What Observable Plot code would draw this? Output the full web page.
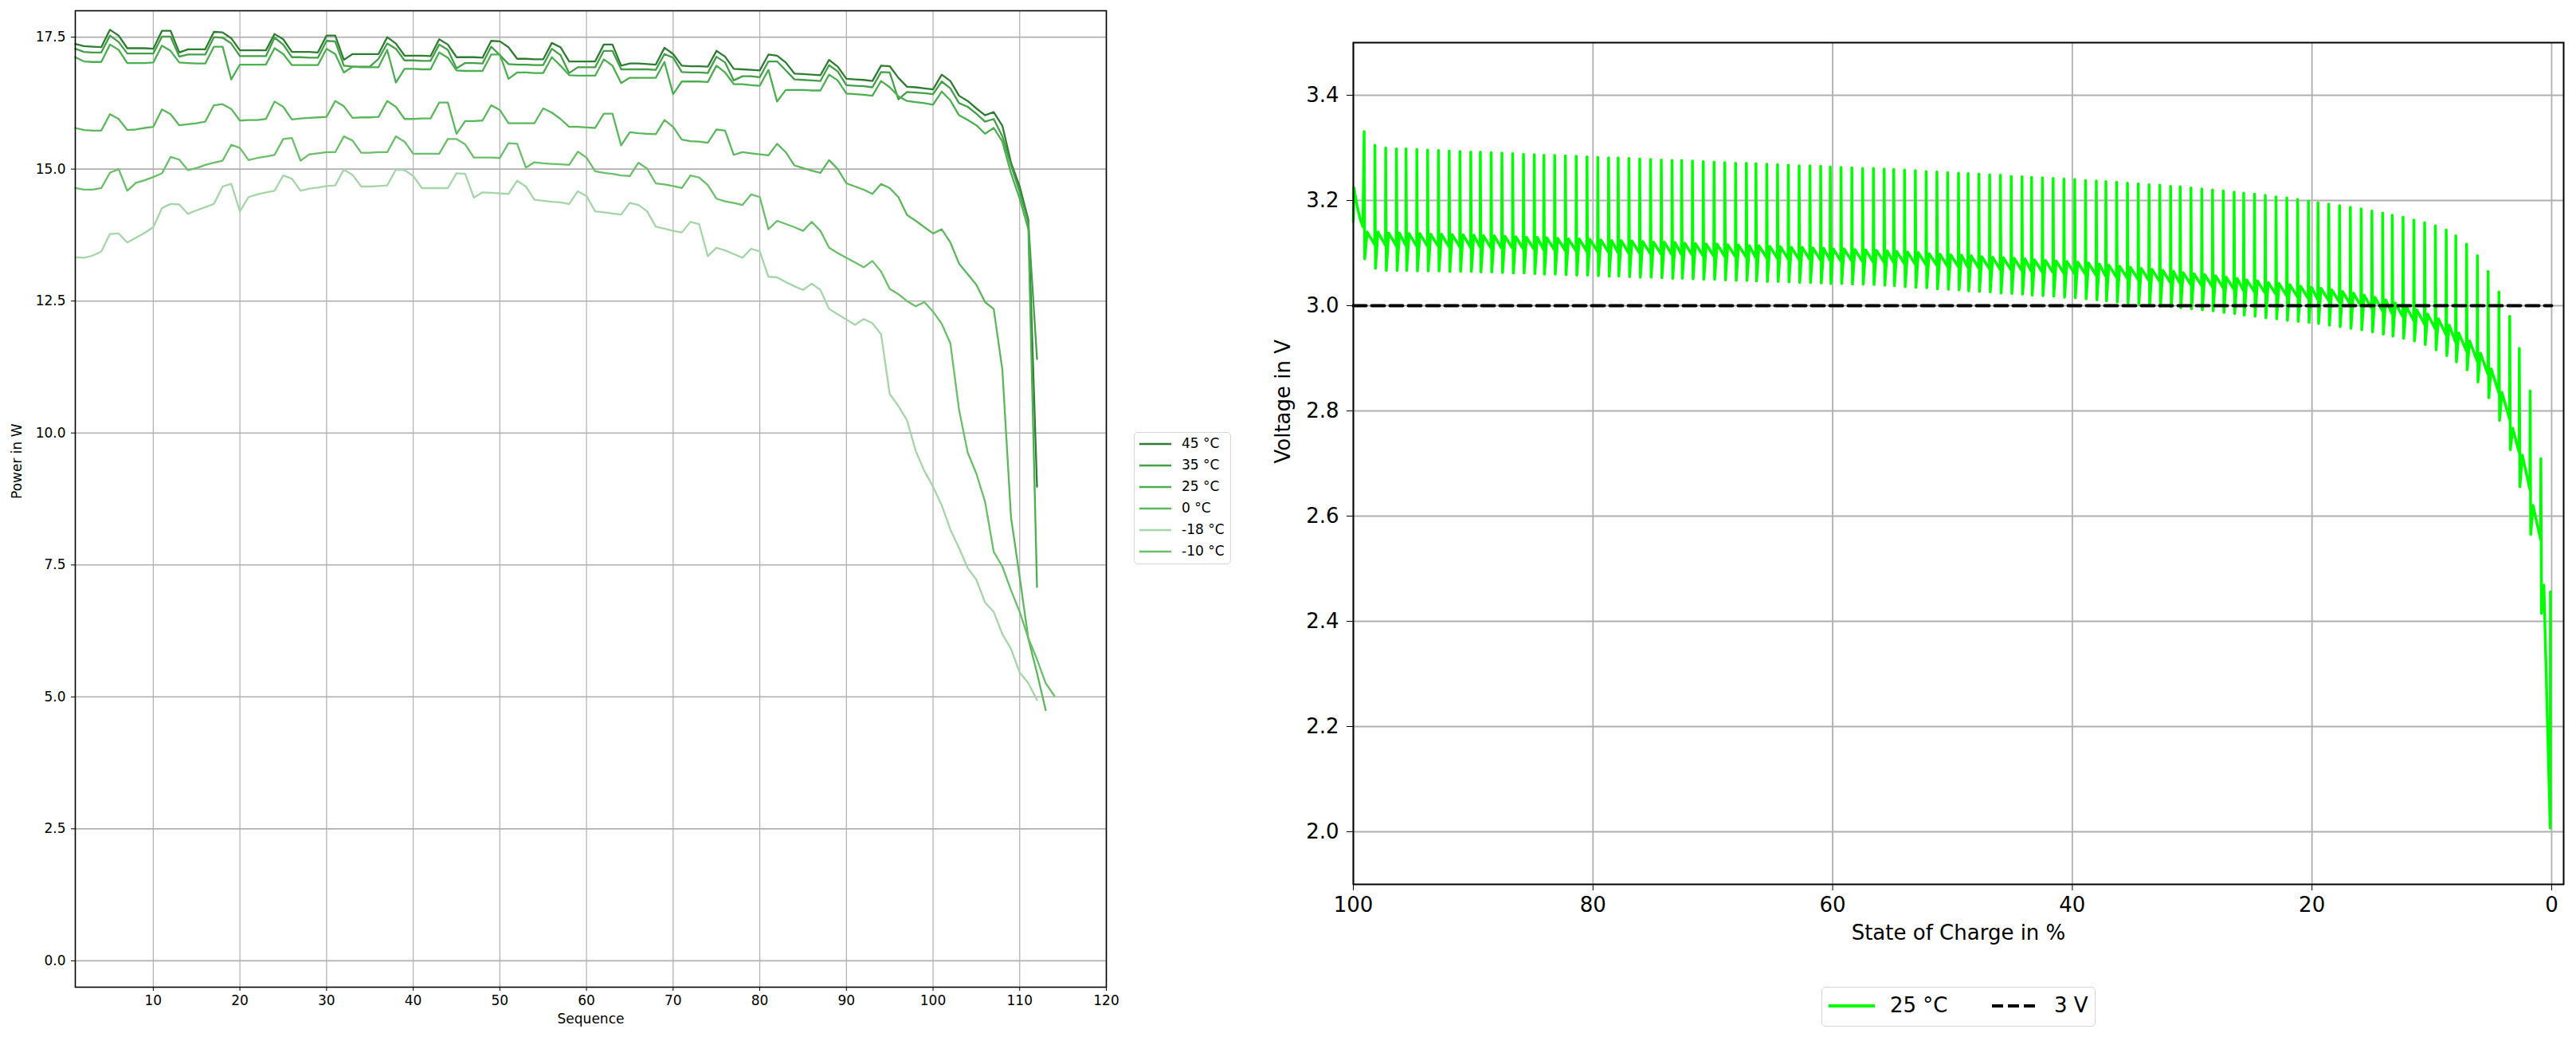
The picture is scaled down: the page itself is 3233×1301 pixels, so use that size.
<!DOCTYPE html>
<html><head><meta charset="utf-8">
<script src="https://cdn.jsdelivr.net/npm/d3@7"></script>
<script src="https://cdn.jsdelivr.net/npm/@observablehq/plot@0.6"></script>
<style>
html,body{margin:0;padding:0;background:#fff;}
#fig{position:relative;width:3233px;height:1301px;overflow:hidden;font-family:"DejaVu Sans",sans-serif;background:#fff;}
#left{position:absolute;left:0;top:0;}
#right{position:absolute;left:1560px;top:0;}
.legend{position:absolute;background:#fff;border:1.5px solid #d6d6d6;border-radius:5px;box-sizing:border-box;}
.legend .it{position:absolute;white-space:nowrap;color:#000;line-height:1;}
.legend svg{position:absolute;}
</style></head><body>
<div id="fig"><div id="left"></div><div id="right"></div><div id="legL" class="legend"></div><div id="legR" class="legend"></div></div>
<script>
// ---------- Left chart: power per sequence ----------
const seriesNames = ["45 °C","35 °C","25 °C","0 °C","-18 °C","-10 °C"];
const seriesColors = ["#2e7d32","#43a047","#4caf50","#5cb85c","#a5d6a7","#6abf69"];
const xTicksLeft = [10,20,30,40,50,60,70,80,90,100,110,120];
const yTicksLeft = [0,2.5,5,7.5,10,12.5,15,17.5];

const p45 = [
17.37,17.33,17.32,17.31,17.64,17.53,17.29,17.29,17.29,17.28,
17.62,17.62,17.21,17.27,17.27,17.27,17.60,17.59,17.48,17.25,
17.25,17.25,17.25,17.56,17.46,17.22,17.22,17.22,17.21,17.53,
17.53,17.07,17.18,17.18,17.18,17.18,17.50,17.38,17.15,17.15,
17.15,17.14,17.46,17.36,17.12,17.12,17.12,17.11,17.43,17.42,
17.31,17.09,17.09,17.08,17.08,17.39,17.31,17.04,17.04,17.04,
17.04,17.36,17.36,16.96,17.00,17.00,16.99,16.98,17.30,17.18,
16.96,16.95,16.95,16.94,17.24,17.13,16.90,16.89,16.88,16.87,
17.17,17.15,17.02,16.81,16.80,16.79,16.78,17.07,16.94,16.71,
16.70,16.69,16.67,16.96,16.95,16.73,16.56,16.55,16.53,16.51,
16.79,16.67,16.39,16.29,16.15,16.02,16.08,15.82,15.12,14.67,
14.04,8.98];
const p35 = [
17.28,17.22,17.21,17.21,17.53,17.41,17.19,17.19,17.19,17.19,
17.51,17.51,17.13,17.17,17.17,17.17,17.50,17.49,17.38,17.14,
17.14,17.14,17.14,17.49,17.36,17.12,17.12,17.11,17.11,17.43,
17.42,16.96,16.94,16.94,16.94,17.09,17.38,17.28,17.06,17.06,
17.05,17.05,17.36,17.26,16.91,17.01,17.01,17.00,17.32,17.16,
16.99,16.98,16.98,16.97,16.97,17.28,17.16,16.82,16.93,16.93,
16.93,17.24,17.24,16.89,16.89,16.89,16.89,16.88,17.18,17.11,
16.84,16.83,16.83,16.82,17.13,17.02,16.68,16.76,16.76,16.74,
17.04,17.04,16.87,16.70,16.69,16.68,16.67,16.97,16.85,16.59,
16.58,16.57,16.55,16.84,16.83,16.32,16.46,16.45,16.44,16.42,
16.66,16.53,16.25,16.18,16.05,15.90,15.95,15.62,15.07,14.57,
13.99,11.40];
const p25 = [
17.12,17.04,17.03,17.03,17.36,17.26,17.01,17.01,17.01,17.02,
17.34,17.24,17.02,17.01,17.00,17.00,17.32,17.32,16.70,16.98,
16.98,16.98,16.98,17.29,17.18,16.97,16.97,16.97,16.97,17.28,
17.18,16.83,16.94,16.93,16.93,16.93,17.26,16.64,16.90,16.90,
16.89,16.89,17.21,17.11,16.87,16.86,16.86,16.86,17.17,17.17,
16.71,16.83,16.83,16.82,16.82,17.12,16.96,16.78,16.77,16.77,
16.77,17.08,16.96,16.63,16.73,16.73,16.73,16.73,17.03,16.42,
16.66,16.66,16.66,16.65,16.96,16.83,16.61,16.61,16.59,16.58,
16.88,16.28,16.50,16.50,16.50,16.49,16.49,16.79,16.68,16.43,
16.42,16.41,16.39,16.67,16.55,16.38,16.29,16.27,16.25,16.22,
16.47,16.30,16.02,15.93,15.83,15.67,15.78,15.52,14.92,14.44,
13.86,7.08];
const p0 = [
15.78,15.74,15.73,15.73,16.04,15.95,15.74,15.75,15.78,15.80,
16.13,16.04,15.83,15.85,15.87,15.90,16.21,16.23,16.14,15.92,
15.93,15.93,15.95,16.28,16.18,15.94,15.96,15.97,15.98,15.99,
16.29,16.19,15.97,15.98,15.98,15.99,16.29,16.18,15.95,15.95,
15.96,15.96,16.26,16.26,15.67,15.91,15.91,15.92,16.21,16.12,
15.87,15.87,15.87,15.87,16.15,16.07,15.95,15.80,15.80,15.79,
15.78,16.05,16.05,15.45,15.70,15.68,15.67,15.66,15.93,15.80,
15.56,15.53,15.52,15.50,15.75,15.73,15.27,15.32,15.30,15.28,
15.26,15.48,15.32,15.07,15.02,14.97,14.93,15.17,15.00,14.73,
14.67,14.61,14.53,14.72,14.64,14.47,14.13,14.02,13.90,13.78,
13.86,13.61,13.21,13.01,12.81,12.48,12.35,11.20,8.40,7.27,
6.10,5.45,4.75];
const pm18 = [
13.33,13.32,13.36,13.44,13.77,13.78,13.61,13.70,13.79,13.90,
14.26,14.34,14.33,14.15,14.22,14.28,14.34,14.67,14.72,14.20,
14.47,14.52,14.56,14.59,14.88,14.82,14.59,14.63,14.65,14.68,
14.69,14.99,14.89,14.67,14.67,14.68,14.69,14.99,14.98,14.87,
14.64,14.64,14.64,14.64,14.92,14.91,14.46,14.56,14.55,14.54,
14.53,14.78,14.67,14.42,14.40,14.38,14.37,14.34,14.58,14.49,
14.20,14.18,14.16,14.14,14.36,14.32,14.20,13.91,13.87,13.83,
13.80,14.00,13.96,13.35,13.51,13.46,13.39,13.32,13.49,13.44,
12.96,12.95,12.86,12.78,12.71,12.83,12.71,12.35,12.25,12.15,
12.05,12.16,12.08,11.87,10.74,10.51,10.24,9.66,9.28,8.98,
8.63,8.17,7.82,7.44,7.22,6.79,6.61,6.19,5.91,5.46,
5.26,4.94];
const pm10 = [
14.64,14.61,14.61,14.64,14.93,15.00,14.59,14.74,14.79,14.85,
14.92,15.23,15.18,14.98,15.02,15.08,15.12,15.16,15.46,15.40,
15.17,15.21,15.24,15.27,15.57,15.59,15.16,15.28,15.30,15.32,
15.32,15.62,15.54,15.31,15.31,15.32,15.32,15.62,15.52,15.29,
15.29,15.29,15.29,15.57,15.57,15.47,15.22,15.22,15.22,15.21,
15.49,15.48,15.03,15.13,15.11,15.10,15.09,15.08,15.33,15.22,
14.96,14.93,14.91,14.88,14.87,15.12,15.01,14.73,14.71,14.68,
14.64,14.88,14.84,14.70,14.44,14.39,14.36,14.32,14.52,14.47,
13.86,14.02,13.96,13.90,13.83,14.00,13.83,13.51,13.41,13.32,
13.23,13.14,13.26,13.06,12.73,12.63,12.50,12.40,12.48,12.30,
12.07,11.70,10.44,9.63,9.23,8.70,7.75,7.47,7.02,6.61,
6.11,5.71,5.26,5.02];

// ---------- Right chart: voltage vs state of charge ----------
const startSoc = [100, 99.95, 99.7, 99.45, 99.2];
const startV = [3.161, 3.224, 3.191, 3.166, 3.150];
const socPulse = [
99.1,98.2,97.3,96.4,95.6,94.7,93.8,92.9,92.0,91.1,
90.2,89.4,88.5,87.6,86.7,85.8,84.9,84.1,83.2,82.3,
81.4,80.5,79.6,78.7,77.9,77.0,76.1,75.2,74.3,73.4,
72.6,71.7,70.8,69.9,69.0,68.1,67.2,66.4,65.5,64.6,
63.7,62.8,61.9,61.0,60.2,59.3,58.4,57.5,56.6,55.7,
54.9,54.0,53.1,52.2,51.3,50.4,49.5,48.7,47.8,46.9,
46.0,45.1,44.2,43.4,42.5,41.6,40.7,39.8,38.9,38.0,
37.2,36.3,35.4,34.5,33.6,32.7,31.8,31.0,30.1,29.2,
28.3,27.4,26.5,25.7,24.8,23.9,23.0,22.1,21.2,20.3,
19.5,18.6,17.7,16.8,15.9,15.0,14.1,13.3,12.4,11.5,
10.6,9.7,8.8,8.0,7.1,6.2,5.3,4.4,3.5,2.7,
1.8,0.9,0.1];
const vRest = [
3.331,3.305,3.300,3.298,3.298,3.297,3.296,3.295,3.294,3.293,
3.292,3.292,3.291,3.290,3.289,3.288,3.287,3.286,3.286,3.285,
3.284,3.283,3.282,3.281,3.281,3.280,3.279,3.278,3.277,3.276,
3.276,3.275,3.274,3.273,3.272,3.271,3.271,3.270,3.269,3.268,
3.267,3.266,3.266,3.265,3.264,3.263,3.262,3.261,3.261,3.260,
3.259,3.258,3.257,3.255,3.254,3.253,3.252,3.251,3.250,3.249,
3.248,3.246,3.245,3.244,3.243,3.242,3.241,3.240,3.238,3.237,
3.236,3.235,3.233,3.232,3.230,3.229,3.227,3.226,3.224,3.222,
3.220,3.218,3.216,3.214,3.212,3.210,3.207,3.205,3.202,3.199,
3.196,3.193,3.190,3.187,3.184,3.180,3.176,3.172,3.168,3.163,
3.158,3.152,3.144,3.133,3.117,3.095,3.065,3.026,2.980,2.919,
2.838,2.709,2.456];
const vPulse = [
3.089,3.071,3.067,3.067,3.067,3.066,3.066,3.066,3.065,3.065,
3.065,3.064,3.064,3.063,3.062,3.062,3.061,3.060,3.060,3.059,
3.058,3.058,3.057,3.056,3.056,3.055,3.054,3.054,3.053,3.052,
3.052,3.051,3.050,3.050,3.049,3.048,3.048,3.047,3.046,3.046,
3.045,3.044,3.044,3.043,3.042,3.042,3.041,3.041,3.040,3.039,
3.038,3.036,3.035,3.034,3.032,3.031,3.030,3.028,3.027,3.026,
3.024,3.023,3.022,3.020,3.019,3.018,3.016,3.015,3.013,3.011,
3.009,3.007,3.005,3.003,3.001,2.999,2.998,2.996,2.994,2.992,
2.990,2.987,2.985,2.982,2.980,2.977,2.975,2.972,2.970,2.968,
2.966,2.963,2.960,2.957,2.954,2.950,2.946,2.942,2.938,2.933,
2.926,2.916,2.905,2.893,2.878,2.855,2.825,2.782,2.726,2.656,
2.565,2.415];
const vRecover = [
3.140,3.140,3.138,3.138,3.137,3.137,3.136,3.136,3.135,3.135,
3.134,3.133,3.133,3.132,3.131,3.130,3.130,3.129,3.128,3.127,
3.127,3.126,3.125,3.124,3.124,3.123,3.122,3.121,3.121,3.120,
3.119,3.118,3.117,3.117,3.116,3.115,3.114,3.114,3.113,3.112,
3.111,3.111,3.110,3.109,3.108,3.108,3.107,3.106,3.105,3.104,
3.103,3.102,3.101,3.099,3.098,3.097,3.096,3.095,3.093,3.092,
3.091,3.090,3.089,3.087,3.086,3.085,3.084,3.083,3.081,3.079,
3.077,3.075,3.073,3.071,3.069,3.067,3.065,3.063,3.061,3.059,
3.057,3.054,3.052,3.049,3.047,3.044,3.042,3.040,3.037,3.035,
3.033,3.030,3.027,3.024,3.020,3.016,3.011,3.005,2.999,2.992,
2.984,2.975,2.963,2.948,2.933,2.910,2.880,2.835,2.767,2.716,
2.620,2.469];
const vEnd = [
3.116,3.115,3.114,3.114,3.113,3.113,3.113,3.112,3.112,3.111,
3.111,3.110,3.109,3.109,3.108,3.107,3.106,3.106,3.105,3.104,
3.103,3.103,3.102,3.101,3.100,3.100,3.099,3.098,3.097,3.097,
3.096,3.095,3.094,3.094,3.093,3.092,3.091,3.091,3.090,3.089,
3.088,3.088,3.087,3.086,3.085,3.085,3.084,3.083,3.083,3.082,
3.080,3.079,3.078,3.077,3.075,3.074,3.073,3.072,3.070,3.069,
3.068,3.067,3.065,3.064,3.063,3.062,3.061,3.060,3.058,3.056,
3.054,3.052,3.050,3.048,3.046,3.044,3.042,3.040,3.038,3.036,
3.034,3.031,3.029,3.027,3.024,3.022,3.019,3.017,3.014,3.012,
3.010,3.007,3.003,2.999,2.995,2.990,2.985,2.979,2.972,2.965,
2.956,2.945,2.931,2.914,2.895,2.870,2.835,2.785,2.721,2.651,
2.555,2.007];
const limitSoc = [100, 0];
const limitV = [3, 3];
const xTicksRight = [100,80,60,40,20,0];
const yTicksRight = [2.0,2.2,2.4,2.6,2.8,3.0,3.2,3.4];

// ---------- build tables ----------
const seriesValues = [p45, p35, p25, p0, pm18, pm10];
const powerRows = seriesValues.flatMap((vals, si) =>
  vals.map((v, i) => ({seq: i + 1, power: v, series: seriesNames[si]})));

const vPts = [];
startSoc.forEach((s, i) => vPts.push({soc: s, v: startV[i]}));
for (let k = 0; k < socPulse.length; k++) {
  vPts.push({soc: socPulse[k], v: vRest[k]});
  if (k < vPulse.length && k + 1 < socPulse.length) {
    vPts.push({soc: socPulse[k] - 0.05, v: vPulse[k]});
    vPts.push({soc: socPulse[k] - 0.25, v: vRecover[k]});
    vPts.push({soc: socPulse[k + 1] + 0.02, v: vEnd[k]});
  }
}
const limitRows = limitSoc.map((s, i) => ({soc: s, v: limitV[i]}));

const grid = {stroke: "#b0b0b0", strokeOpacity: 1};

const left = Plot.plot({
  width: 1420, height: 1300,
  marginLeft: 94, marginRight: 32, marginTop: 13, marginBottom: 62,
  x: {domain: [1, 120]},
  y: {domain: [-0.5, 18]},
  color: {domain: seriesNames, range: seriesColors},
  style: {fontFamily: "DejaVu Sans", fontSize: "17px", color: "black", background: "white"},
  marks: [
    Plot.gridX(xTicksLeft, {...grid, strokeWidth: 1.2}),
    Plot.gridY(yTicksLeft, {...grid, strokeWidth: 1.6}),
    Plot.line(powerRows, {x: "seq", y: "power", z: "series", stroke: "series", strokeWidth: 2.3}),
    Plot.frame({stroke: "black", strokeWidth: 1.6}),
    Plot.axisX(xTicksLeft, {tickSize: 5, tickPadding: 5, label: null, fontSize: 17}),
    Plot.axisY(yTicksLeft, {tickSize: 5, tickPadding: 7, tickFormat: d3.format(".1f"), label: null, fontSize: 17}),
    Plot.text(["Sequence"], {text: d => d, frameAnchor: "bottom", dy: 45, fontSize: 17}),
    Plot.text(["Power in W"], {text: d => d, frameAnchor: "left", dx: -73, rotate: -90, fontSize: 17})
  ]
});
document.getElementById("left").appendChild(left);

const right = Plot.plot({
  width: 1673, height: 1225,
  marginLeft: 138, marginRight: 16, marginTop: 53, marginBottom: 116,
  x: {domain: [100, -1]},
  y: {domain: [1.9, 3.5]},
  style: {fontFamily: "DejaVu Sans", fontSize: "26px", color: "black", background: "white"},
  marks: [
    Plot.gridX(xTicksRight, {...grid, strokeWidth: 1.8}),
    Plot.gridY(yTicksRight, {...grid, strokeWidth: 1.8}),
    Plot.line(vPts, {x: "soc", y: "v", stroke: "#00ff00", strokeWidth: 3.5}),
    Plot.line(limitRows, {x: "soc", y: "v", stroke: "black", strokeWidth: 4, strokeDasharray: "16,7"}),
    Plot.frame({stroke: "black", strokeWidth: 2}),
    Plot.axisX(xTicksRight, {tickSize: 8, tickPadding: 8, label: null, fontSize: 26, tickFormat: d3.format("d")}),
    Plot.axisY(yTicksRight, {tickSize: 8, tickPadding: 10, tickFormat: d3.format(".1f"), label: null, fontSize: 26}),
    Plot.text(["State of Charge in %"], {text: d => d, frameAnchor: "bottom", dy: 69, fontSize: 26}),
    Plot.text(["Voltage in V"], {text: d => d, frameAnchor: "left", dx: -88, rotate: -90, fontSize: 26})
  ]
});
document.getElementById("right").appendChild(right);

// ---------- legends ----------
function swatch(parent, x, y, w, color, width, dash) {
  const ns = "http://www.w3.org/2000/svg";
  const s = document.createElementNS(ns, "svg");
  s.setAttribute("width", w); s.setAttribute("height", 10);
  s.style.left = x + "px"; s.style.top = (y - 5) + "px";
  const l = document.createElementNS(ns, "line");
  l.setAttribute("x1", 0); l.setAttribute("x2", w);
  l.setAttribute("y1", 5); l.setAttribute("y2", 5);
  l.setAttribute("stroke", color); l.setAttribute("stroke-width", width);
  if (dash) l.setAttribute("stroke-dasharray", dash);
  s.appendChild(l); parent.appendChild(s);
}
function label(parent, x, y, txt, size) {
  const d = document.createElement("div");
  d.className = "it"; d.textContent = txt;
  d.style.left = x + "px"; d.style.top = (y - size * 0.55) + "px";
  d.style.fontSize = size + "px";
  parent.appendChild(d);
}
const legL = document.getElementById("legL");
Object.assign(legL.style, {left: "1423px", top: "542px", width: "122px", height: "166px"});
seriesNames.forEach((n, i) => {
  const cy = 14 + i * 27;
  swatch(legL, 6, cy, 40, seriesColors[i], 2.5);
  label(legL, 59, cy, n, 17);
});
const legR = document.getElementById("legR");
Object.assign(legR.style, {left: "2286px", top: "1238px", width: "344px", height: "50px"});
swatch(legR, 8, 23, 58, "#00ff00", 4);
label(legR, 85, 23, "25 °C", 26);
swatch(legR, 213, 23, 57, "black", 4, "14,6");
label(legR, 291, 23, "3 V", 26);
</script>
</body></html>
